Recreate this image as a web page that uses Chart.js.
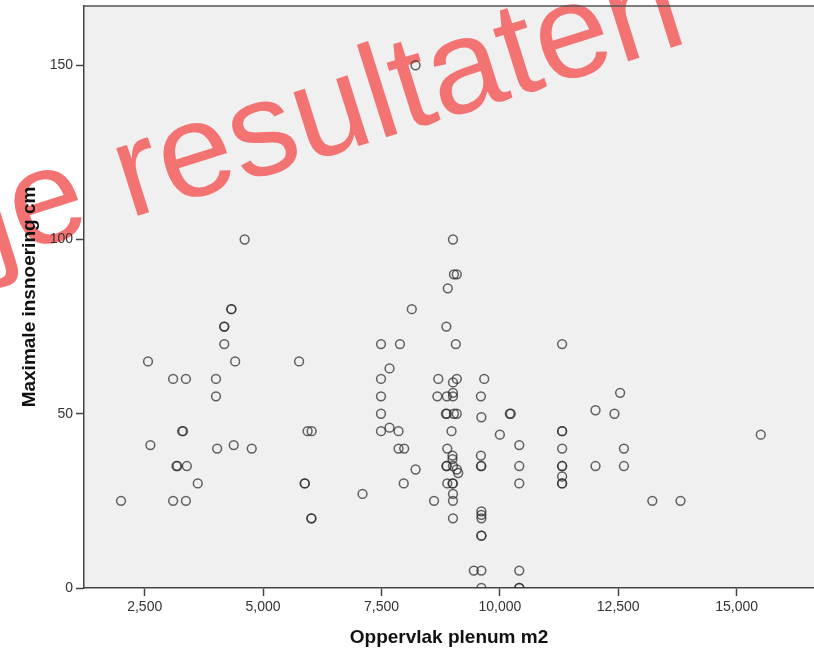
<!DOCTYPE html>
<html>
<head>
<meta charset="utf-8">
<script src="https://cdn.jsdelivr.net/npm/chart.js@4"></script>
<style>
  html, body { margin: 0; padding: 0; background: #ffffff; }
  #wrap { width: 814px; height: 649px; }
</style>
</head>
<body>
<div id="wrap"><canvas id="c" width="814" height="649"></canvas></div>
<script>
// ---- data ----
const xTickValues = [2500, 5000, 7500, 10000, 12500, 15000];
const yTickValues = [0, 50, 100, 150];
const xTitle = 'Oppervlak plenum m2';
const yTitle = 'Maximale insnoering cm';
const watermarkText = 'je resultaten';

// Oppervlak plenum m2
const plenumArea = [
  4610, 4330, 4330, 4180, 4180, 4180,
  2570, 4410, 5760,
  3100, 3370, 4005, 4005,
  3290, 3310, 5940, 6025,
  2620, 4380, 4030, 4760,
  3170, 3190, 3390, 3620, 5880, 5880,
  2000, 3100, 3370, 6020, 6020,
  8220, 9010, 9030, 9090, 8900, 8140, 8870,
  7490, 7890, 9070, 7670,
  7490, 8700, 9090, 9670, 9010,
  7490, 8680, 8880, 9010, 9010, 9600,
  7490, 8860, 8880, 9030, 9090, 9610, 10210, 10230,
  7490, 7670, 7860, 8980, 10000,
  7860, 7980, 8890, 10410,
  9000, 9000, 9600, 8220,
  8870, 8880, 9010, 9090, 9120, 9600, 9610, 10410,
  7970, 8890, 9000, 9010, 10410,
  7100, 8610, 9010, 9010, 9010,
  9610, 9610, 9610, 9610, 9610,
  9450, 9610, 10410, 9610, 10410, 10410,
  11315, 12540, 12020, 12420, 11315, 11315, 15510,
  11315, 12620, 11315, 11315, 12020, 12620,
  11315, 11315, 11315, 13220, 13815
];
// Maximale insnoering cm
const maxConstriction = [
  100, 80, 80, 75, 75, 70,
  65, 65, 65,
  60, 60, 60, 55,
  45, 45, 45, 45,
  41, 41, 40, 40,
  35, 35, 35, 30, 30, 30,
  25, 25, 25, 20, 20,
  150, 100, 90, 90, 86, 80, 75,
  70, 70, 70, 63,
  60, 60, 60, 60, 59,
  55, 55, 55, 55, 56, 55,
  50, 50, 50, 50, 50, 49, 50, 50,
  45, 46, 45, 45, 44,
  40, 40, 40, 41,
  38, 37, 38, 34,
  35, 35, 35, 34, 33, 35, 35, 35,
  30, 30, 30, 30, 30,
  27, 25, 27, 25, 20,
  22, 21, 20, 15, 15,
  5, 5, 5, 0, 0, 0,
  70, 56, 51, 50, 45, 45, 44,
  40, 40, 35, 35, 35, 35,
  32, 30, 30, 25, 25
];

const points = plenumArea.map((x, i) => ({ x: x, y: maxConstriction[i] }));

const FONT = '"Liberation Sans", Arial, sans-serif';

const backdrop = {
  id: 'backdrop',
  beforeDraw(chart) {
    const { ctx, chartArea: a } = chart;
    ctx.save();
    ctx.fillStyle = '#ffffff';
    ctx.fillRect(0, 0, chart.width, chart.height);
    ctx.fillStyle = '#f0f0f0';
    ctx.fillRect(a.left, a.top, a.right - a.left, a.bottom - a.top);
    // watermark
    ctx.translate(-6, 261);
    ctx.rotate(-17.5 * Math.PI / 180);
    ctx.font = '134px ' + FONT;
    ctx.fillStyle = '#f37373';
    ctx.textBaseline = 'alphabetic';
    ctx.fillText(watermarkText, 0, 0);
    ctx.restore();
  },
  afterDraw(chart) {
    const { ctx, chartArea: a } = chart;
    ctx.save();
    ctx.strokeStyle = '#555555';
    ctx.lineWidth = 1.5;
    ctx.beginPath();
    ctx.moveTo(a.left, a.top);
    ctx.lineTo(a.right, a.top);
    ctx.stroke();
    ctx.restore();
  }
};

new Chart(document.getElementById('c'), {
  type: 'scatter',
  data: {
    datasets: [{
      data: points,
      pointStyle: 'circle',
      pointRadius: 4.4,
      pointBorderWidth: 1.5,
      borderColor: 'rgba(40,40,40,0.72)',
      pointBorderColor: 'rgba(40,40,40,0.72)',
      backgroundColor: 'rgba(0,0,0,0)',
      pointBackgroundColor: 'rgba(0,0,0,0)',
      showLine: false
    }]
  },
  options: {
    responsive: false,
    animation: false,
    devicePixelRatio: 1,
    layout: { autoPadding: false, padding: { top: 6, right: 0, bottom: 0, left: 0 } },
    plugins: { legend: { display: false }, tooltip: { enabled: false } },
    scales: {
      x: {
        type: 'linear',
        min: 1218,
        max: 16634,
        afterBuildTicks(scale) { scale.ticks = xTickValues.map(v => ({ value: v })); },
        afterFit(scale) { scale.height = 61; scale.paddingLeft = 0; scale.paddingRight = 0; },
        ticks: {
          color: '#333333',
          font: { family: FONT, size: 14 },
          padding: 3,
          maxRotation: 0,
          autoSkip: false,
          callback: v => v.toLocaleString('en-US')
        },
        grid: { drawOnChartArea: false, drawTicks: true, tickLength: 8, tickColor: '#444444', tickWidth: 1.5 },
        border: { display: true, color: '#444444', width: 1.5 },
        title: {
          display: true, text: xTitle, color: '#111111',
          font: { family: FONT, size: 19, weight: 'bold' },
          padding: { top: 0, bottom: 0 }
        }
      },
      y: {
        type: 'linear',
        min: 0,
        max: 167,
        afterBuildTicks(scale) { scale.ticks = yTickValues.map(v => ({ value: v })); },
        afterFit(scale) { scale.width = 84; scale.paddingTop = 0; scale.paddingBottom = 0; },
        ticks: {
          color: '#333333',
          font: { family: FONT, size: 14 },
          padding: 3,
          autoSkip: false
        },
        grid: { drawOnChartArea: false, drawTicks: true, tickLength: 8, tickColor: '#444444', tickWidth: 1.5 },
        border: { display: true, color: '#444444', width: 1.5 },
        title: {
          display: true, text: yTitle, color: '#111111',
          font: { family: FONT, size: 19, weight: 'bold' },
          padding: { top: 18, bottom: 0 }
        }
      }
    }
  },
  plugins: [backdrop]
});
</script>
</body>
</html>
